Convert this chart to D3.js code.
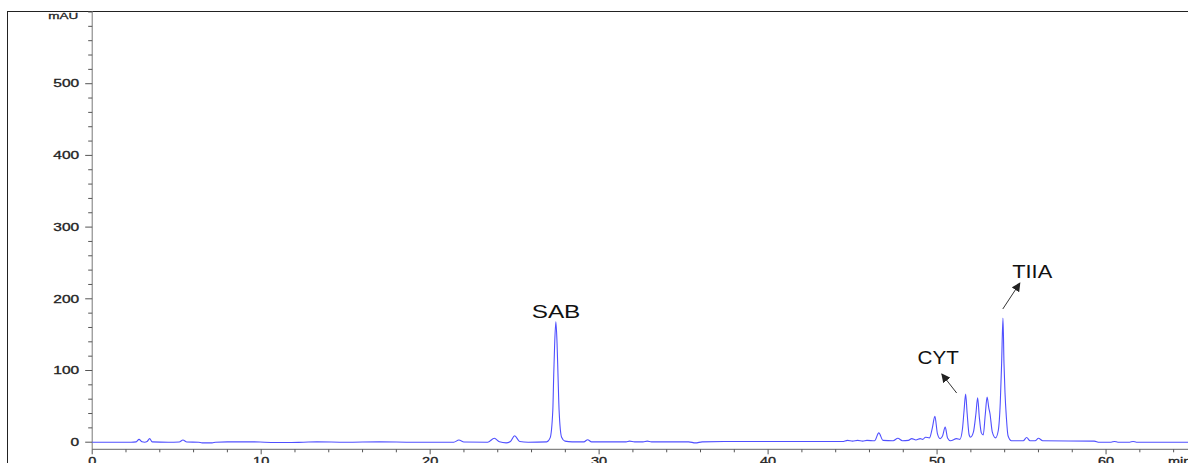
<!DOCTYPE html>
<html>
<head>
<meta charset="utf-8">
<script src="https://cdn.jsdelivr.net/npm/d3@7"></script>
<style>
  html, body { margin: 0; padding: 0; background: #fff; }
  svg { display: block; }
  text { font-family: "Liberation Sans", Arial, sans-serif; }
  .tl, .unit { stroke: #222; stroke-width: 0.3px; paint-order: stroke; }
</style>
</head>
<body>
<svg id="chart" width="1188" height="463"></svg>
<script>
// ---------------- data ----------------
const retentionTime = [
  0, 2.3, 2.6, 2.77, 2.95, 3.1, 3.25, 3.4, 3.55, 4.5, 5.15, 5.37, 5.6, 6.3, 6.5, 7.1, 7.3,
  8.0, 9.5, 10.2, 11.5, 12.5, 13.3, 15, 17, 19, 21.4, 21.7, 22.0, 23.4, 23.8, 24.1, 24.5,
  24.75, 25.0, 25.3, 25.8, 26.9,
  27.1, 27.26, 27.31, 27.37, 27.44, 27.51, 27.57, 27.63, 27.78, 27.98,
  28.4, 29.1, 29.32, 29.55, 31.6, 31.8, 32.1, 32.6, 32.85, 33.1, 35.3, 35.7, 36.1, 37.4,
  41.6, 44.4, 44.7, 45.0, 45.3, 45.6, 45.85, 46.3, 46.55, 46.8, 47.4, 47.68, 47.95, 48.3,
  48.5, 48.75, 49.0, 49.15, 49.32, 49.55, 49.72, 49.87, 50.02, 50.18, 50.33, 50.48, 50.62,
  50.8, 51.15, 51.35, 51.5, 51.6, 51.69, 51.78, 51.9, 51.98, 52.15, 52.3, 52.40, 52.5,
  52.62, 52.73, 52.85, 52.96, 53.06, 53.13, 53.27, 53.46, 53.62, 53.74, 53.82, 53.90,
  53.96, 54.02, 54.10, 54.20, 54.4, 55.1, 55.3, 55.5, 55.8, 56.0, 56.25, 59.3, 59.6,
  60.3, 60.5, 60.7, 61.4, 61.6, 61.8, 64.85
];
const absorbance = [
  0, 0, 0.5, 4, 0.5, 0, 1, 5, 0.5, 0, 0.3, 3, 0.3, 0, -1, -1, 0,
  0.5, 0.5, 0, -0.5, 0, 0.5, 0, 0.5, 0, 0, 3, 0.3, 0, 5.5, 0.5, -1,
  1, 9, 1, 0, 0.5,
  6, 45, 91, 138, 168, 138, 91, 45, 7, 1.5,
  0.5, 0.5, 3.5, 0.5, 0.5, 1.5, 0.5, 0.5, 1.5, 0.5, 0.5, -1, 0.5, 1,
  1, 1, 2.5, 1.5, 2.5, 1.5, 2.5, 2, 13, 2.5, 2, 5.5, 2, 2.5,
  5, 3, 5, 4, 7, 6, 20, 36, 12, 5, 9, 21, 6,
  2, 5, 4, 18, 45, 67, 40, 10, 7, 14, 40, 62, 35,
  13, 10, 38, 63, 48, 40, 14, 6, 16, 55, 110, 173,
  110, 69, 35, 9, 2, 2, 6.5, 2, 2, 5.5, 2, 1.5, 0,
  0, 1, 0, 0, 1, 0, 0
];

const yTickValues = [0, 100, 200, 300, 400, 500];
const xTickValues = [0, 10, 20, 30, 40, 50, 60];
const yUnitLabel = "mAU";
const xUnitLabel = "min";

const peakNames = ["SAB", "CYT", "TIIA"];
const peakLabelTime = [27.45, 50.07, 55.63];
const peakLabelValue = [173.6, 108.6, 228.6];
const peakLabelWidth = [48.7, 41.3, 40];
const arrowFromTime = [null, 51.16, 53.89];
const arrowFromValue = [null, 68.6, 185.8];
const arrowToTime = [null, 50.28, 54.90];
const arrowToValue = [null, 95.1, 222];

// ---------------- layout ----------------
const W = 1188, H = 463;
const plotLeft = 92.2, plotTop = 11, plotBottom = 449.3;
const svg = d3.select("#chart");

const x = d3.scaleLinear().domain([0, 64.85]).range([plotLeft, W]);
const y = d3.scaleLinear().domain([-9.9, 601.4]).range([plotBottom, plotTop]);

// frame
svg.append("line").attr("x1", 7.5).attr("x2", 7.5).attr("y1", plotTop).attr("y2", H)
  .attr("stroke", "#222").attr("stroke-width", 1);
svg.append("line").attr("x1", 7.5).attr("x2", W).attr("y1", plotTop + 0.5).attr("y2", plotTop + 0.5)
  .attr("stroke", "#222").attr("stroke-width", 1);

// y axis
const yMinor = d3.range(0, 601, 20);
const gy = svg.append("g");
gy.append("line").attr("x1", plotLeft).attr("x2", plotLeft).attr("y1", plotTop).attr("y2", plotBottom)
  .attr("stroke", "#777").attr("stroke-width", 1);
gy.selectAll("line.minor").data(yMinor).join("line").attr("class", "minor")
  .attr("x1", d => yTickValues.includes(d) ? plotLeft - 7 : plotLeft - 4)
  .attr("x2", plotLeft)
  .attr("y1", d => y(d)).attr("y2", d => y(d))
  .attr("stroke", "#555").attr("stroke-width", 1);
gy.selectAll("text.tl").data(yTickValues).join("text").attr("class", "tl")
  .attr("transform", d => `translate(${plotLeft - 13},${y(d) + 3.7}) scale(1.48,1)`)
  .attr("text-anchor", "end").attr("font-size", 10.5).attr("fill", "#222")
  .text(d => d);
gy.append("text").attr("class", "unit")
  .attr("transform", `translate(${plotLeft - 14},18.7) scale(1.42,1)`)
  .attr("text-anchor", "end").attr("font-size", 9.5).attr("fill", "#222")
  .text(yUnitLabel);

// x axis
const xMinor = d3.range(0, 65, 2);
const gx = svg.append("g");
gx.append("line").attr("x1", plotLeft).attr("x2", W).attr("y1", plotBottom).attr("y2", plotBottom)
  .attr("stroke", "#666").attr("stroke-width", 1);
gx.selectAll("line.t").data(xMinor).join("line").attr("class", "t")
  .attr("x1", d => x(d)).attr("x2", d => x(d))
  .attr("y1", plotBottom)
  .attr("y2", d => xTickValues.includes(d) ? plotBottom + 5 : plotBottom + 3)
  .attr("stroke", "#555").attr("stroke-width", 1);
gx.selectAll("text.tl").data(xTickValues).join("text").attr("class", "tl")
  .attr("transform", d => `translate(${x(d)},464.5) scale(1.38,1)`)
  .attr("text-anchor", "middle").attr("font-size", 10.5).attr("fill", "#222")
  .text(d => d);
gx.append("text").attr("class", "unit")
  .attr("transform", `translate(1168,464.5) scale(1.38,1)`)
  .attr("text-anchor", "start").attr("font-size", 10.5).attr("fill", "#222")
  .text(xUnitLabel);

// trace
const pts = retentionTime.map((t, i) => [t, absorbance[i]]);
const line = d3.line().x(d => x(d[0])).y(d => y(d[1])).curve(d3.curveMonotoneX);
svg.append("path").attr("d", line(pts))
  .attr("fill", "none").attr("stroke", "#5050ff").attr("stroke-width", 1.1)
  .attr("stroke-linejoin", "round");

// annotations
const defs = svg.append("defs");
defs.append("marker").attr("id", "arrow").attr("viewBox", "0 0 10 10")
  .attr("refX", 9).attr("refY", 5).attr("markerWidth", 9).attr("markerHeight", 9)
  .attr("markerUnits", "userSpaceOnUse").attr("orient", "auto")
  .append("path").attr("d", "M0,0 L10,5 L0,10 z").attr("fill", "#222");

peakNames.forEach((name, i) => {
  svg.append("text")
    .attr("x", x(peakLabelTime[i]) - peakLabelWidth[i] / 2)
    .attr("y", y(peakLabelValue[i]))
    .attr("font-size", 17.6).attr("fill", "#111")
    .attr("textLength", peakLabelWidth[i]).attr("lengthAdjust", "spacingAndGlyphs")
    .text(name);
  if (arrowFromTime[i] !== null) {
    svg.append("line")
      .attr("x1", x(arrowFromTime[i])).attr("y1", y(arrowFromValue[i]))
      .attr("x2", x(arrowToTime[i])).attr("y2", y(arrowToValue[i]))
      .attr("stroke", "#333").attr("stroke-width", 1)
      .attr("marker-end", "url(#arrow)");
  }
});
</script>
</body>
</html>
